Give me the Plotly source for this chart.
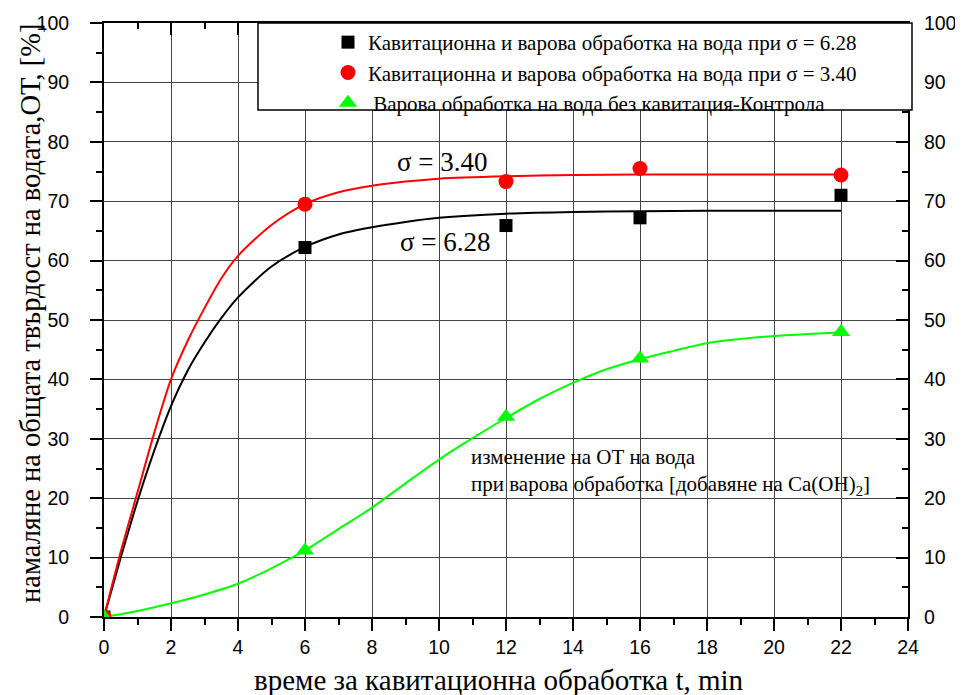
import plotly.graph_objects as go

# Measured points
t_pts = [0, 6, 12, 16, 22]
s628_pts = [0, 62.2, 65.9, 67.2, 71.0]
s340_pts = [0, 69.5, 73.3, 75.5, 74.4]
ctrl_pts = [0, 11.2, 33.7, 43.5, 48.0]

# Fitted curves
t_fit = [0, 0.5, 1, 1.5, 2, 2.5, 3, 3.5, 4, 5, 6, 7, 8, 9, 10, 12, 14, 16, 18, 20, 22]
s340_fit = [0, 11, 21, 31, 40, 46.5, 52, 57, 60.8, 66, 69.5, 71.5, 72.6, 73.3, 73.8, 74.2, 74.4, 74.5, 74.5, 74.5, 74.5]
s628_fit = [0, 10, 19.5, 28, 35.5, 41.5, 46.2, 50.3, 53.8, 59, 62.3, 64.4, 65.6, 66.5, 67.2, 67.9, 68.2, 68.3, 68.4, 68.4, 68.4]
t_ctrl_fit = [0, 1, 2, 3, 4, 5, 6, 7, 8, 9, 10, 11, 12, 13, 14, 15, 16, 17, 18, 20, 22]
ctrl_fit = [0, 1.0, 2.3, 3.8, 5.6, 8.2, 11.2, 14.8, 18.4, 22.5, 26.5, 30.1, 33.5, 36.7, 39.4, 41.7, 43.4, 44.8, 46.1, 47.3, 47.9]

legend_names = [
    "Кавитационна и варова обработка на вода при σ = 6.28",
    "Кавитационна и варова обработка на вода при σ = 3.40",
    " Варова обработка на вода без кавитация-Контрола",
]
x_title = "време за кавитационна обработка t, min"
y_title = "намаляне на общата твърдост на водата,ОТ, [%]"
x_ticks = list(range(0, 25, 2))
y_ticks = list(range(0, 101, 10))

SERIF = "Liberation Serif"
SANS = "Liberation Sans"

# page offset: plot area spans x 104..908, y 23..617 on the page (body margin 8px)
PL, PR, PT, PB = 104, 908, 23, 617
PW, PH = PR - PL, PB - PT

fig = go.Figure()
spl = dict(width=2, shape="spline", smoothing=0.8)
fig.add_trace(go.Scatter(x=t_fit, y=s628_fit, mode="lines", line=dict(color="black", **spl), showlegend=False))
fig.add_trace(go.Scatter(x=t_fit, y=s340_fit, mode="lines", line=dict(color="#ff0000", **spl), showlegend=False))
fig.add_trace(go.Scatter(x=t_ctrl_fit, y=ctrl_fit, mode="lines", line=dict(color="#00ff00", **spl), showlegend=False))

fig.add_trace(go.Scatter(x=t_pts, y=s628_pts, mode="markers", name=legend_names[0],
                         marker=dict(symbol="square", size=13, color="black")))
fig.add_trace(go.Scatter(x=t_pts, y=s340_pts, mode="markers", name=legend_names[1],
                         marker=dict(symbol="circle", size=15, color="#ff0000")))
fig.add_trace(go.Scatter(x=t_pts, y=ctrl_pts, mode="markers", name=legend_names[2],
                         marker=dict(symbol="triangle-up", size=16, color="#00ff00")))

axis_common = dict(showline=True, linewidth=2, linecolor="black", zeroline=False,
                   tickwidth=2, tickcolor="black", ticklen=12, automargin=False,
                   tickfont=dict(family=SANS, size=19.5, color="black"))

fig.update_layout(
    width=955, height=687,
    margin=dict(l=PL - 8, r=963 - PR, t=PT - 8, b=695 - PB),
    paper_bgcolor="white", plot_bgcolor="white",
    xaxis=dict(range=[0, 24], tickvals=x_ticks, ticks="outside", showgrid=True,
               gridcolor="#444", gridwidth=1, ticklabelstandoff=0,
               minor=dict(dtick=1, ticks="outside", ticklen=6, tickwidth=2, tickcolor="black", showgrid=False),
               **axis_common),
    yaxis=dict(range=[0, 100], tickvals=y_ticks, ticks="outside", showgrid=True,
               gridcolor="#444", gridwidth=1, ticklabelstandoff=17,
               minor=dict(dtick=5, ticks="outside", ticklen=6, tickwidth=2, tickcolor="black", showgrid=False),
               **axis_common),
    xaxis2=dict(range=[0, 24], overlaying="x", side="top", tickvals=x_ticks, ticks="inside",
                showticklabels=False, showgrid=False, anchor="y",
                minor=dict(dtick=1, ticks="inside", ticklen=6, tickwidth=2, tickcolor="black"),
                **axis_common),
    yaxis2=dict(range=[0, 100], overlaying="y", side="right", tickvals=y_ticks, ticks="inside",
                showticklabels=True, showgrid=False, anchor="x", ticklabelstandoff=10,
                minor=dict(dtick=5, ticks="inside", ticklen=6, tickwidth=2, tickcolor="black"),
                **axis_common),
    legend=dict(x=(328 - PL) / PW, y=1 + 1 / PH, xanchor="left", yanchor="top",
                bgcolor="rgba(0,0,0,0)", borderwidth=0,
                font=dict(family=SERIF, size=21, color="black"), tracegroupgap=0),
    showlegend=True,
)

# Invisible helper trace to activate secondary axes
fig.add_trace(go.Scatter(x=[None], y=[None], xaxis="x2", yaxis="y2", showlegend=False, hoverinfo="skip"))

# Legend box
fig.add_shape(type="rect", xref="paper", yref="paper",
              x0=(258 - PL) / PW, x1=(912 - PL) / PW, y0=(PB - 110) / PH, y1=1,
              fillcolor="white", line=dict(color="black", width=1.5), layer="above")

# Axis titles
fig.add_annotation(x=(499 - PL) / PW, y=0, xref="paper", yref="paper", yshift=-(680 - PB),
                   text=x_title, showarrow=False, xanchor="center", yanchor="middle",
                   font=dict(family=SERIF, size=29, color="black"))
fig.add_annotation(x=0, y=(PB - 313) / PH, xref="paper", yref="paper", xshift=30 - PL,
                   text=y_title, showarrow=False, textangle=-90, xanchor="center", yanchor="middle",
                   font=dict(family=SERIF, size=28.5, color="black"))

fig.add_annotation(x=10.1, y=76.6, xref="x", yref="y", text="σ = 3.40", showarrow=False,
                   font=dict(family=SERIF, size=27, color="black"), xanchor="center", yanchor="middle")
fig.add_annotation(x=10.2, y=63.2, xref="x", yref="y", text="σ = 6.28", showarrow=False,
                   font=dict(family=SERIF, size=27, color="black"), xanchor="center", yanchor="middle")
fig.add_annotation(x=10.9, y=24.45, xref="x", yref="y", showarrow=False, align="left",
                   text="изменение на ОТ на вода<br>при варова обработка [добавяне на Ca(OH)<sub>2</sub>]",
                   font=dict(family=SERIF, size=21, color="black"), xanchor="left", yanchor="middle")

fig.write_html("out.html")
